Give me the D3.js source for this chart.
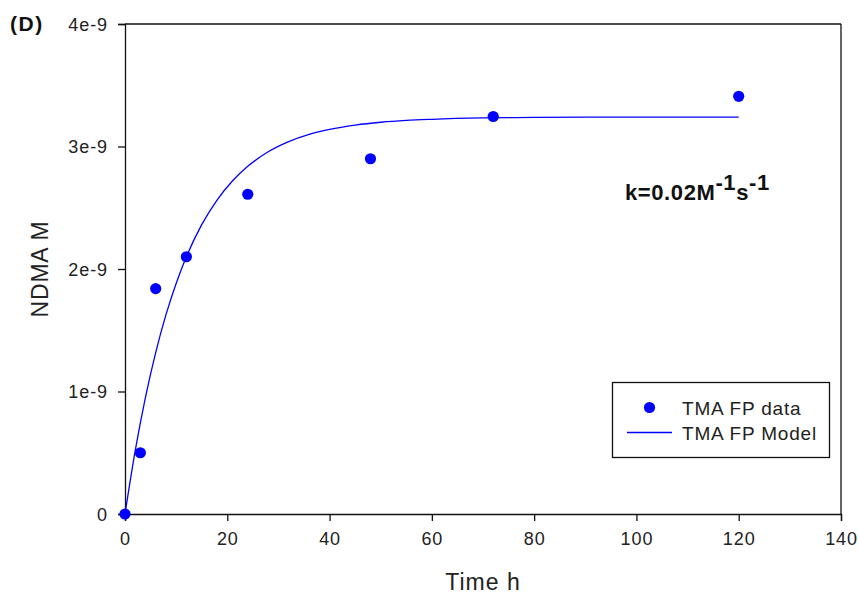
<!DOCTYPE html>
<html>
<head>
<meta charset="utf-8">
<script src="https://cdn.jsdelivr.net/npm/d3@7"></script>
<style>
  html, body { margin: 0; padding: 0; background: #fff; }
  svg text { font-family: "Liberation Sans", Arial, sans-serif; }
</style>
</head>
<body>
<svg id="chart" width="858" height="600"></svg>
<script>
// Data (time in hours, NDMA in M)
const dataTime = [0, 3, 6, 12, 24, 48, 72, 120];
const dataNDMA = [0, 0.50e-9, 1.84e-9, 2.10e-9, 2.61e-9, 2.90e-9, 3.245e-9, 3.41e-9];

const modelTime = [0, 2, 4, 6, 8, 10, 12, 15, 18, 21, 24, 28, 32, 36, 40, 45, 50, 55, 60, 70, 80, 90, 100, 110, 120];
const modelNDMA = [0, 0.517e-9, 0.953e-9, 1.318e-9, 1.625e-9, 1.882e-9, 2.100e-9, 2.362e-9, 2.563e-9, 2.718e-9,
                   2.838e-9, 2.957e-9, 3.040e-9, 3.099e-9, 3.140e-9, 3.175e-9, 3.198e-9, 3.213e-9, 3.222e-9,
                   3.233e-9, 3.237e-9, 3.239e-9, 3.240e-9, 3.240e-9, 3.240e-9];

const xTicks = [0, 20, 40, 60, 80, 100, 120, 140];
const yTicks = [0, 1e-9, 2e-9, 3e-9, 4e-9];
const yTickLabels = ["0", "1e-9", "2e-9", "3e-9", "4e-9"];

const svg = d3.select("#chart");
const L = 125, R = 841, T = 24, B = 514;
const blue = "#0000ff";

const x = d3.scaleLinear().domain([0, 140]).range([L, R]);
const y = d3.scaleLinear().domain([0, 4e-9]).range([B, T]);

// frame top & right
svg.append("line").attr("x1", L).attr("x2", R).attr("y1", T).attr("y2", T)
  .attr("stroke", "#111").attr("stroke-width", 1.3);
svg.append("line").attr("x1", R).attr("x2", R).attr("y1", T).attr("y2", B)
  .attr("stroke", "#111").attr("stroke-width", 1.3);

// x axis
const xAxis = svg.append("g").attr("transform", `translate(0,${B})`)
  .call(d3.axisBottom(x).tickValues(xTicks).tickSize(7).tickPadding(11).tickFormat(d3.format("d")));
// y axis
const yAxis = svg.append("g").attr("transform", `translate(${L},0)`)
  .call(d3.axisLeft(y).tickValues(yTicks).tickSize(7).tickPadding(10)
    .tickFormat((d, i) => yTickLabels[i]));

[xAxis, yAxis].forEach(g => {
  g.select(".domain").attr("stroke", "#111").attr("stroke-width", 1.3);
  g.selectAll(".tick line").attr("stroke", "#111").attr("stroke-width", 1.3);
  g.selectAll(".tick text").attr("fill", "#222").style("font-size", "18px")
    .style("font-family", "'Liberation Sans', Arial, sans-serif").style("letter-spacing", "0.9px");
});
yAxis.selectAll(".tick text").attr("dy", "0.36em");

// model line
const line = d3.line().x(d => x(d[0])).y(d => y(d[1])).curve(d3.curveMonotoneX);
svg.append("path").datum(modelTime.map((t, i) => [t, modelNDMA[i]]))
  .attr("d", line).attr("fill", "none").attr("stroke", blue).attr("stroke-width", 1.3);

// data points
svg.append("g").selectAll("circle").data(dataTime.map((t, i) => [t, dataNDMA[i]]))
  .join("circle").attr("cx", d => x(d[0])).attr("cy", d => y(d[1])).attr("r", 5.6).attr("fill", blue);

// axis titles
svg.append("text").attr("x", 483).attr("y", 590).attr("text-anchor", "middle")
  .style("font-size", "23px").style("letter-spacing", "1px").attr("fill", "#222").text("Time h");
svg.append("text").attr("transform", `translate(48,${(T + B) / 2}) rotate(-90)`)
  .attr("text-anchor", "middle").style("font-size", "23px").style("letter-spacing", "0.8px")
  .attr("fill", "#222").text("NDMA M");

// panel label
svg.append("text").attr("x", 10).attr("y", 31).style("font-size", "21px").style("font-weight", "bold")
  .style("letter-spacing", "1.5px").attr("fill", "#111").text("(D)");

// annotation
const ann = svg.append("text").attr("x", 625).attr("y", 200).style("font-size", "22px")
  .style("font-weight", "bold").style("letter-spacing", "0.6px").attr("fill", "#111");
ann.append("tspan").text("k=0.02M");
ann.append("tspan").attr("dy", -10).text("-1");
ann.append("tspan").attr("dy", 10).text("s");
ann.append("tspan").attr("dy", -10).text("-1");

// legend
const lg = svg.append("g");
lg.append("rect").attr("x", 612.5).attr("y", 382.5).attr("width", 217).attr("height", 75)
  .attr("fill", "#fff").attr("stroke", "#111").attr("stroke-width", 1.3);
lg.append("circle").attr("cx", 649.5).attr("cy", 407.5).attr("r", 5.6).attr("fill", blue);
lg.append("line").attr("x1", 627).attr("x2", 672).attr("y1", 432.5).attr("y2", 432.5)
  .attr("stroke", blue).attr("stroke-width", 1.3);
lg.append("text").attr("x", 682).attr("y", 415).style("font-size", "19px").style("letter-spacing", "0.8px")
  .attr("fill", "#222").text("TMA FP data");
lg.append("text").attr("x", 682).attr("y", 440).style("font-size", "19px").style("letter-spacing", "0.8px")
  .attr("fill", "#222").text("TMA FP Model");
</script>
</body>
</html>
